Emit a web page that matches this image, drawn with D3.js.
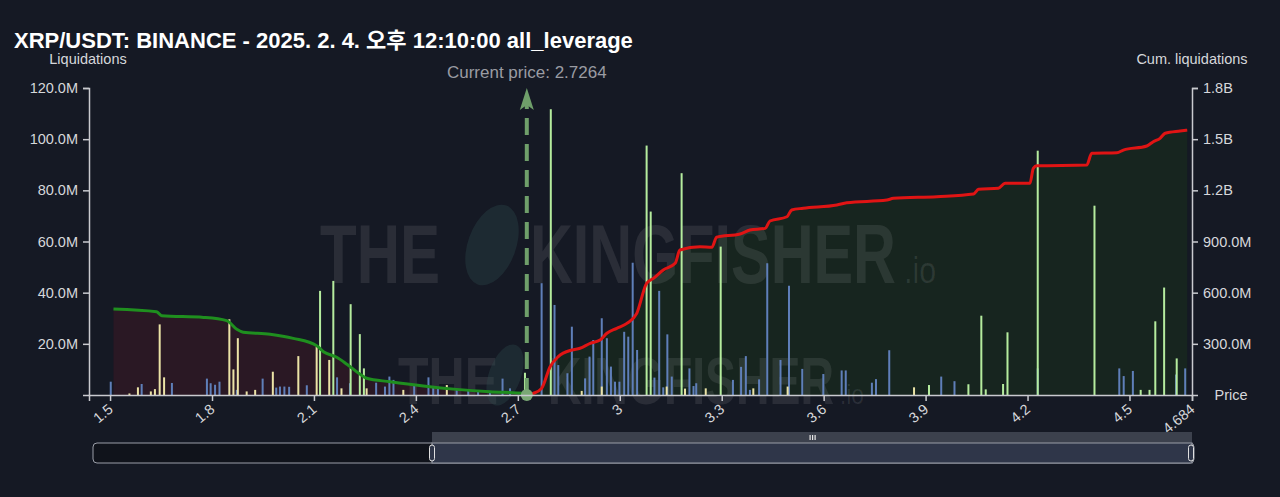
<!DOCTYPE html>
<html>
<head>
<meta charset="utf-8">
<script src="https://cdn.jsdelivr.net/npm/d3@7/dist/d3.min.js"></script>
<style>
  html, body { margin: 0; padding: 0; background: #151924; }
  svg { display: block; }
  text { font-family: "Liberation Sans", Arial, "Noto Sans CJK KR", sans-serif; }
</style>
</head>
<body>
<svg id="chart" width="1280" height="497"></svg>
<script>
// ---------------- DATA ----------------
const titleText = "XRP/USDT: BINANCE - 2025. 2. 4. 오후 12:10:00 all_leverage";
const currentPrice = 2.7264;
const priceDomain = [1.438, 4.684];
const xTickValues = [1.5, 1.8, 2.1, 2.4, 2.7, 3, 3.3, 3.6, 3.9, 4.2, 4.5, 4.684];
const leftTickValues = [20e6, 40e6, 60e6, 80e6, 100e6, 120e6];
const rightTickValues = [300e6, 600e6, 900e6, 1.2e9, 1.5e9, 1.8e9];

// liquidation bars (price, value in M)
const bluePrices = [1.502,1.593,1.682,1.785,1.796,1.809,1.822,1.873,1.949,1.989,2.000,2.013,2.027,2.079,2.168,2.206,2.283,2.309,2.322,2.334,2.395,2.437,2.451,2.465,2.520,2.554,2.583,2.618,2.655,2.677,
  2.770,2.808,2.819,2.846,2.859,2.898,2.911,2.922,2.947,2.962,2.974,2.986,2.999,3.013,3.025,3.038,3.051,3.102,3.116,3.128,3.140,3.153,3.205,3.217,3.225,
  3.333,3.357,3.371,3.383,3.410,3.434,3.473,3.498,3.537,3.599,3.653,3.665,3.742,3.754,3.793,3.946,3.985,4.230,4.470,4.483,4.510,4.637,4.664];
const blueValues = [5.2,4.3,4.7,6.4,4.6,4.0,5.2,2.0,6.4,2.9,3.3,3.3,3.2,3.8,6.9,4.6,4.8,3.3,7.2,5.9,3.9,6.9,3.0,2.6,2.0,2.0,1.7,1.5,6.4,2.6,
  43.7,35.2,11.7,8.5,26.7,6.5,15.0,21.5,30.0,22.2,11.1,5.2,5.2,24.7,22.8,51.7,17.6,6.8,40.7,3.0,23.7,7.2,10.4,3.5,4.6,
  5.9,11.0,15.2,2.0,6.1,51.5,13.7,42.7,10.2,8.2,9.6,9.6,4.8,6.2,17.5,7.2,5.4,10.4,10.4,7.4,9.4,8.0,10.4];

const greenPrices = [2.118,2.157,2.208,2.235,2.247,2.721,2.797,3.079,3.091,3.182,3.297,3.910,4.026,4.064,4.077,4.128,4.141,4.230,4.397,4.533,4.559,4.576,4.602,4.639];
const greenValues = [40.7,44.6,35.5,23.8,10.4,8.7,111.7,97.5,71.7,86.7,58.0,3.9,4.2,31.0,2.2,4.3,24.5,95.5,74.0,2.0,2.0,28.8,42.0,14.3];

const yellowPrices = [1.557,1.582,1.620,1.632,1.646,1.659,1.851,1.863,1.876,1.902,1.927,1.979,2.054,2.108,2.145,2.181,2.255,2.363,2.491,2.888,2.947,3.138,3.192,3.253,3.393,3.494,3.866];
const yellowValues = [0.6,3.0,1.4,2.3,27.6,6.9,29.6,10.0,22.2,1.4,2.0,9.1,15.2,18.9,13.7,2.6,2.6,2.0,3.9,1.6,3.3,3.3,2.5,2.6,2.6,3.3,3.0];

// cumulative liquidations (price, value in M)
const shortCumPrices = [1.510,1.637,1.652,1.775,1.843,1.873,1.892,1.971,2.039,2.108,2.128,2.167,2.197,2.236,2.255,2.324,2.422,2.520,2.618,2.716,2.7264];
const shortCumValues = [504,488,465,455,436,385,368,356,332,289,254,221,180,121,98,78,53,33,19,10,0];

const longCumPrices = [2.7264,2.746,2.770,2.795,2.819,2.859,2.883,2.913,2.942,2.962,2.991,3.021,3.050,3.079,3.099,3.128,3.163,3.177,3.236,3.271,3.285,3.354,3.383,3.428,3.442,3.492,3.506,3.540,3.639,3.668,3.786,3.805,3.933,4.041,4.056,4.114,4.134,4.207,4.217,4.227,4.374,4.389,4.463,4.482,4.551,4.570,4.590,4.605,4.649,4.670];
const longCumValues = [0,10,39,166,225,264,274,303,322,362,391,420,479,655,684,733,772,850,869,866,925,944,967,977,1020,1045,1085,1095,1114,1127,1143,1153,1163,1178,1206,1212,1241,1241,1329,1344,1348,1417,1420,1436,1460,1485,1505,1535,1548,1553];

// ---------------- CHART ----------------
const svg = d3.select("#chart");
const W = 1280, H = 497;
const plot = { left: 89, right: 1192, top: 88, bottom: 395 };

svg.append("rect").attr("width", W).attr("height", H).attr("fill", "#151924");

const x = d3.scaleLinear().domain(priceDomain).range([plot.left, plot.right]);
const yL = d3.scaleLinear().domain([0, 120e6]).range([plot.bottom, plot.top]);
const yR = d3.scaleLinear().domain([0, 1.8e9]).range([plot.bottom, plot.top]);

const fmtBig = d => d >= 1e9 ? (d / 1e9).toFixed(1) + "B" : (d / 1e6).toFixed(1) + "M";

const shortCum = shortCumPrices.map((p, i) => ({ p, v: shortCumValues[i] * 1e6 }));
const longCum = longCumPrices.map((p, i) => ({ p, v: longCumValues[i] * 1e6 }));

// areas
const area = d3.area().x(d => x(d.p)).y0(plot.bottom).y1(d => yR(d.v)).curve(d3.curveMonotoneX);
svg.append("path").datum(shortCum).attr("d", area).attr("fill", "#2a1824");
svg.append("path").datum(longCum).attr("d", area).attr("fill", "#17251f");

// watermark (text sized so its natural width fits, then stretched vertically)
const wm = svg.append("g").attr("fill", "#ffffff").attr("fill-opacity", 0.09)
  .attr("font-family", "'Liberation Sans Narrow','Liberation Sans',sans-serif");
function fitText(str, x0, base, w, capH, bold) {
  const t = wm.append("text").attr("font-size", 100).attr("font-weight", bold ? "bold" : "normal").text(str);
  const L = t.node().getComputedTextLength();
  const fs = 100 * w / L;
  const sy = capH / (0.72 * fs);
  t.attr("font-size", fs).attr("transform", `translate(${x0},${base}) scale(1,${sy})`);
  return t;
}
fitText("THE", 320, 283, 120, 60, true);
fitText("KINGFISHER", 530, 283, 366, 60, true);
fitText(".io", 904, 283, 32, 26, false);
fitText("THE", 398, 404, 100, 48, true);
fitText("KINGFISHER", 548, 404, 286, 48, true);
fitText(".io", 840, 404, 24, 20, false);
// bird silhouette
const bird = svg.append("g").attr("fill", "#2f4a4c").attr("fill-opacity", 0.35);
bird.append("ellipse").attr("cx", 492).attr("cy", 245).attr("rx", 24).attr("ry", 42).attr("transform", "rotate(20,492,245)");
bird.append("ellipse").attr("cx", 505).attr("cy", 375).attr("rx", 16).attr("ry", 32).attr("transform", "rotate(20,505,375)");

// bars
const barW = 2;
function drawBars(prices, values, color) {
  svg.append("g").selectAll("rect").data(prices.map((p, i) => ({ p, v: values[i] * 1e6 })))
    .join("rect")
    .attr("x", d => x(d.p) - barW / 2)
    .attr("y", d => yL(d.v))
    .attr("width", barW)
    .attr("height", d => plot.bottom - yL(d.v))
    .attr("fill", color);
}
drawBars(bluePrices, blueValues, "#5f7fb9");
drawBars(greenPrices, greenValues, "#b5ec9e");
drawBars(yellowPrices, yellowValues, "#ebe3a6");

// cumulative lines
const line = d3.line().x(d => x(d.p)).y(d => yR(d.v)).curve(d3.curveMonotoneX);
svg.append("path").datum(shortCum).attr("d", line).attr("fill", "none").attr("stroke", "#1f8f1f").attr("stroke-width", 3);
svg.append("path").datum(longCum).attr("d", line).attr("fill", "none").attr("stroke", "#e01414").attr("stroke-width", 3);

// current price marker
const cx = x(currentPrice);
svg.append("line").attr("x1", cx).attr("x2", cx).attr("y1", plot.bottom).attr("y2", 104)
  .attr("stroke", "#6f9f6a").attr("stroke-width", 4).attr("stroke-dasharray", "17,9");
svg.append("path")
  .attr("d", `M${cx},${plot.top} L${cx + 7},${plot.top + 22} L${cx},${plot.top + 17} L${cx - 7},${plot.top + 22} Z`)
  .attr("fill", "#6f9f6a");
svg.append("circle").attr("cx", cx).attr("cy", plot.bottom).attr("r", 6).attr("fill", "#7aa875");
svg.append("text").attr("x", cx).attr("y", 78).attr("text-anchor", "middle")
  .attr("font-size", 17).attr("fill", "#9a9ca3").text("Current price: " + currentPrice);

// range slider
const sl = svg.append("g");
sl.append("rect").attr("x", 93).attr("y", 443).attr("width", 1101).attr("height", 20).attr("rx", 4)
  .attr("fill", "#10131b").attr("stroke", "#9a9ea8").attr("stroke-width", 1);
sl.append("rect").attr("x", 432).attr("y", 432).attr("width", 760).attr("height", 11).attr("fill", "#3c414d");
sl.append("rect").attr("x", 432).attr("y", 443).attr("width", 760).attr("height", 20)
  .attr("fill", "#2f3649").attr("stroke", "#9a9ea8").attr("stroke-width", 1);
[810, 812.5, 815].forEach(px => sl.append("rect").attr("x", px - 0.5).attr("y", 435).attr("width", 1.2).attr("height", 5).attr("fill", "#e8e8e8"));
[432, 1191].forEach(px => sl.append("rect").attr("x", px - 2.5).attr("y", 445).attr("width", 5).attr("height", 16).attr("rx", 2.5)
  .attr("fill", "#2f3649").attr("stroke", "#e0e0e0").attr("stroke-width", 1));

// axes
const axisColor = "#c9cacf";
function styleAxis(g) {
  g.selectAll("path.domain").attr("stroke", axisColor).attr("stroke-width", 1.5);
  g.selectAll(".tick line").attr("stroke", axisColor).attr("stroke-width", 1.5);
  g.selectAll(".tick text").attr("fill", "#d6d7db").attr("font-size", 14.5)
    .attr("font-family", "'Liberation Sans', Arial, sans-serif");
}
const gL = svg.append("g").attr("transform", `translate(${plot.left},0)`)
  .call(d3.axisLeft(yL).tickValues(leftTickValues).tickFormat(fmtBig).tickSize(6).tickPadding(5));
styleAxis(gL);
const gR = svg.append("g").attr("transform", `translate(${plot.right},0)`)
  .call(d3.axisRight(yR).tickValues(rightTickValues).tickFormat(fmtBig).tickSize(6).tickPadding(5));
styleAxis(gR);
const gX = svg.append("g").attr("transform", `translate(0,${plot.bottom})`)
  .call(d3.axisBottom(x).tickValues(xTickValues).tickFormat(d => String(+d.toFixed(3))).tickSize(6).tickSizeOuter(6));
styleAxis(gX);
gX.selectAll(".tick text")
  .attr("x", 0).attr("y", 0).attr("dy", "0.35em")
  .attr("text-anchor", "end")
  .attr("transform", "translate(0,12) rotate(-40)");

// axis titles
svg.append("text").attr("x", 88).attr("y", 64).attr("text-anchor", "middle").attr("font-size", 14.5).attr("fill", "#d6d7db").text("Liquidations");
svg.append("text").attr("x", 1192).attr("y", 64).attr("text-anchor", "middle").attr("font-size", 14.5).attr("fill", "#d6d7db").text("Cum. liquidations");
svg.append("text").attr("x", 1231).attr("y", 400).attr("text-anchor", "middle").attr("font-size", 14.5).attr("fill", "#d6d7db").text("Price");

// title
svg.append("text").attr("x", 14).attr("y", 48).attr("font-size", 22).attr("font-weight", "bold")
  .attr("fill", "#ffffff").text(titleText);
</script>
</body>
</html>
